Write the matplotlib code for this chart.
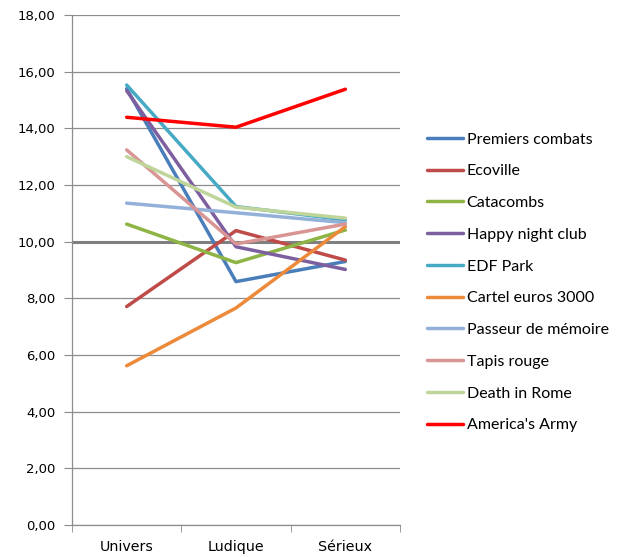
import matplotlib.pyplot as plt

plt.switch_backend('Agg')

# Données
categories = ['Univers', 'Ludique', 'Sérieux']
series_names = ['Premiers combats', 'Ecoville', 'Catacombs', 'Happy night club',
                'EDF Park', 'Cartel euros 3000', 'Passeur de mémoire',
                'Tapis rouge', 'Death in Rome', "America's Army"]
premiers_combats = [15.40, 8.59, 9.30]
ecoville = [7.71, 10.39, 9.35]
catacombs = [10.62, 9.26, 10.41]
happy_night_club = [15.33, 9.82, 9.02]
edf_park = [15.53, 11.24, 10.77]
cartel_euros = [5.62, 7.66, 10.53]
passeur_memoire = [11.36, 11.02, 10.67]
tapis_rouge = [13.24, 9.92, 10.62]
death_in_rome = [13.00, 11.22, 10.83]
americas_army = [14.39, 14.04, 15.38]

series_values = [premiers_combats, ecoville, catacombs, happy_night_club,
                 edf_park, cartel_euros, passeur_memoire, tapis_rouge,
                 death_in_rome, americas_army]
colors = ['#4A7EBB', '#BE4B48', '#8DB444', '#7D5FA0', '#46AAC5',
          '#EC8A3A', '#93B1D8', '#D89593', '#BFD59A', '#FF0000']

fig = plt.figure(figsize=(6.19, 5.57), dpi=100)
ax = fig.add_axes([72 / 619, 32 / 557, 328 / 619, 510 / 557])

# grille horizontale, ligne des 10 plus épaisse
for y in range(0, 20, 2):
    if y == 10:
        ax.axhline(y, color='#7F7F7F', lw=2.2, zorder=1)
    else:
        ax.axhline(y, color='#8C8C8C', lw=0.9, zorder=1)

x = range(len(categories))
for name, vals, c in zip(series_names, series_values, colors):
    ax.plot(x, vals, color=c, lw=2.5, label=name, zorder=3, solid_capstyle='round')

ax.set_xlim(-0.5, 2.5)
ax.set_ylim(0, 18)
ax.set_yticks(range(0, 20, 2))
ax.set_yticklabels([f'{v:.2f}'.replace('.', ',') for v in range(0, 20, 2)],
                   fontsize=9.5, family='DejaVu Sans')
ax.set_xticks(list(x))
ax.set_xticklabels(categories, fontsize=10.3, family='DejaVu Sans')
ax.set_xticks([-0.5, 0.5, 1.5, 2.5], minor=True)
ax.tick_params(axis='x', which='major', length=0, pad=11)
ax.tick_params(axis='x', which='minor', length=5, direction='out', color='#8C8C8C')
ax.tick_params(axis='y', length=6, direction='out', color='#8C8C8C', pad=6)

for s in ['top', 'right']:
    ax.spines[s].set_visible(False)
for s in ['left', 'bottom']:
    ax.spines[s].set_color('#8C8C8C')
    ax.spines[s].set_linewidth(0.9)

fig.legend(loc='upper left', bbox_to_anchor=(413 / 619, 1 - 118 / 557),
           frameon=False, prop={'family': 'Lato', 'size': 11.5},
           handlelength=2.2, handletextpad=0.25, labelspacing=1.1)

plt.savefig('out.png', dpi=100)
plt.close(fig)
